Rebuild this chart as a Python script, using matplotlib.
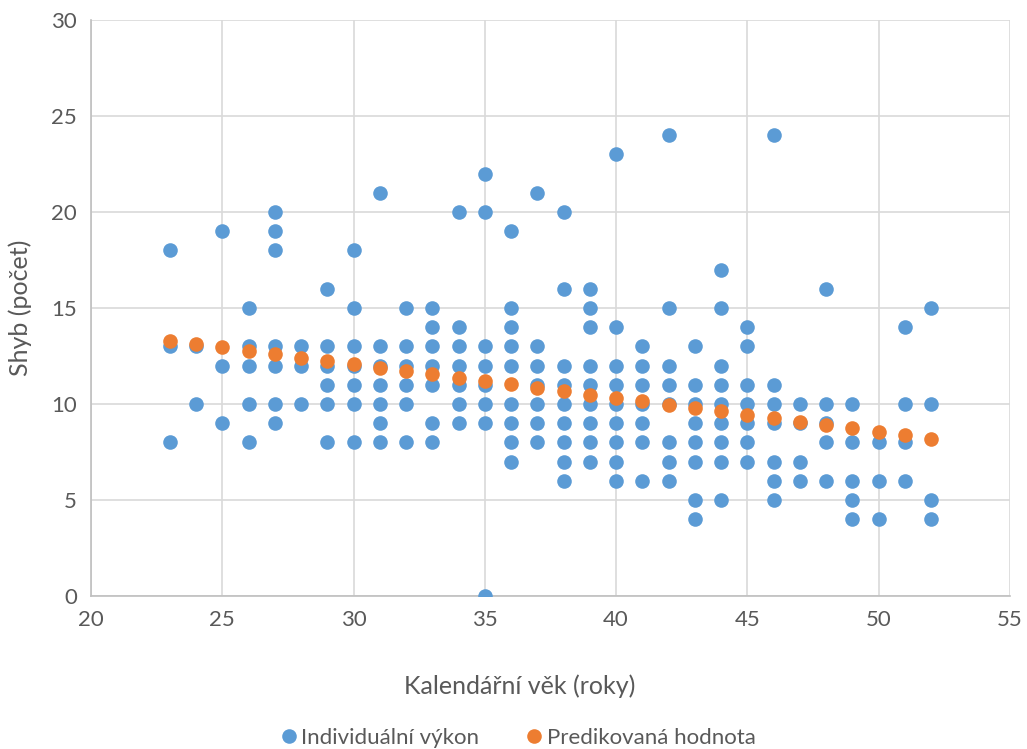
import matplotlib
matplotlib.use("Agg")
import matplotlib.pyplot as plt
import numpy as np

# vek (roky) a namerene shyby pro kazdy vek
ages = list(range(23, 53))
pullups = [
    [18, 13, 8],                          # 23
    [13, 10],                             # 24
    [19, 12, 9],                          # 25
    [15, 13, 12, 10, 8],                  # 26
    [20, 19, 18, 13, 12, 10, 9],          # 27
    [13, 12, 10],                         # 28
    [16, 13, 12, 11, 10, 8],              # 29
    [18, 15, 13, 12, 11, 10, 8],          # 30
    [21, 13, 12, 11, 10, 9, 8],           # 31
    [15, 13, 12, 11, 10, 8],              # 32
    [15, 14, 13, 12, 11, 9, 8],           # 33
    [20, 14, 13, 12, 11, 10, 9],          # 34
    [22, 20, 13, 12, 11, 10, 9, 0],       # 35
    [19, 15, 14, 13, 12, 10, 9, 8, 7],    # 36
    [21, 13, 12, 11, 10, 9, 8],           # 37
    [20, 16, 12, 11, 10, 9, 8, 7, 6],     # 38
    [16, 15, 14, 12, 11, 10, 9, 8, 7],    # 39
    [23, 14, 12, 11, 10, 9, 8, 7, 6],     # 40
    [13, 12, 11, 10, 9, 8, 6],            # 41
    [24, 15, 12, 11, 10, 8, 7, 6],        # 42
    [13, 11, 10, 9, 8, 7, 5, 4],          # 43
    [17, 15, 12, 11, 10, 9, 8, 7, 5],     # 44
    [14, 13, 11, 10, 9, 8, 7],            # 45
    [24, 11, 10, 9, 7, 6, 5],             # 46
    [10, 9, 7, 6],                        # 47
    [16, 10, 9, 8, 6],                    # 48
    [10, 8, 6, 5, 4],                     # 49
    [8, 6, 4],                            # 50
    [14, 10, 8, 6],                       # 51
    [15, 10, 5, 4],                       # 52
]
predicted = [13.3, 13.1, 12.95, 12.77, 12.6, 12.42, 12.25, 12.07, 11.89, 11.72,
             11.54, 11.37, 11.19, 11.02, 10.84, 10.66, 10.49, 10.31, 10.14, 9.96,
             9.78, 9.61, 9.43, 9.26, 9.08, 8.91, 8.73, 8.55, 8.38, 8.2]

BLUE = "#5B9BD5"
ORANGE = "#ED7D31"
TXT = "#595959"

plt.rcParams["font.family"] = ["Lato", "DejaVu Sans"]

x_ind = [a for a, vals in zip(ages, pullups) for _ in vals]
y_ind = [v for vals in pullups for v in vals]

fig = plt.figure(figsize=(10.27, 7.49), dpi=100)
ax = fig.add_axes([0.0886, 0.2043, 0.8948, 0.769])

ax.plot(x_ind, y_ind, "o", color=BLUE, markersize=10.5, markeredgewidth=0,
        label="Individuální výkon", zorder=3)
ax.plot(ages, predicted, "o", color=ORANGE, markersize=10.5, markeredgewidth=0,
        label="Predikovaná hodnota", zorder=4)

ax.set_xlim(20, 55)
ax.set_ylim(0, 30)
ax.set_xticks(np.arange(20, 56, 5))
ax.set_yticks(np.arange(0, 31, 5))
ax.grid(True, color="#d9d9d9", linewidth=1.2, zorder=0)
ax.set_axisbelow(True)
for s in ["top", "right"]:
    ax.spines[s].set_visible(False)
for s in ["left", "bottom"]:
    ax.spines[s].set_color("#bfbfbf")
    ax.spines[s].set_linewidth(1.2)
ax.tick_params(length=0, labelsize=16, colors=TXT, pad=10)

ax.set_xlabel("Kalendářní věk (roky)", fontsize=18, color=TXT)
ax.xaxis.set_label_coords(0.467, -0.137)
ax.set_ylabel("Shyb (počet)", fontsize=18, color=TXT)
ax.yaxis.set_label_coords(-0.064, 0.5)

ax.legend(loc="center", bbox_to_anchor=(0.463, -0.246), ncol=2,
          frameon=False, fontsize=16, labelcolor=TXT, handletextpad=0.05,
          columnspacing=2.0, markerscale=1.0, handlelength=1.0)

fig.savefig("out.png", dpi=100)
